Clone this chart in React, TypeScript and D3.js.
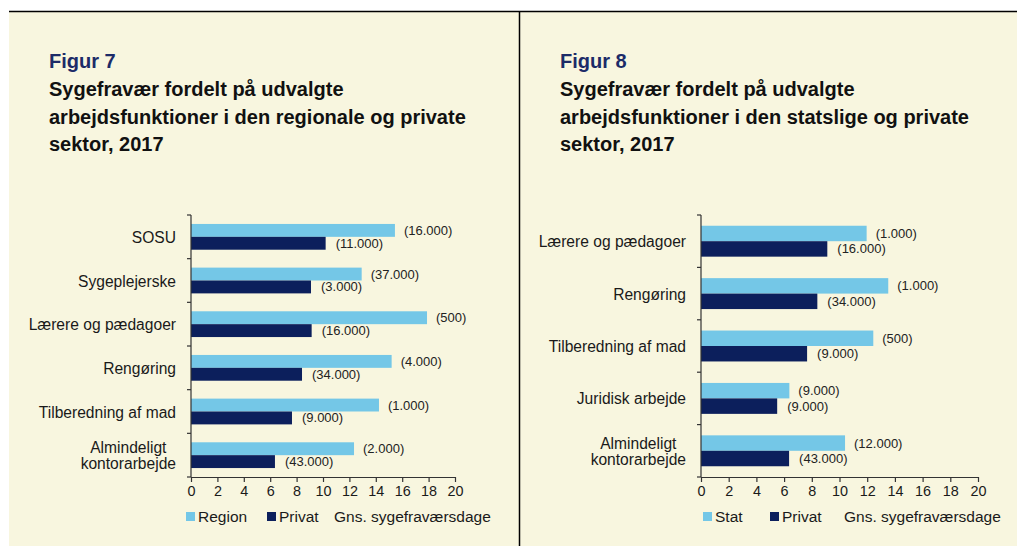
import React, { useEffect, useRef } from 'react'
import * as d3 from 'd3'

// Figur 7 data (regional vs privat)
const leftCategories = ['SOSU', 'Sygeplejerske', 'Lærere og pædagoer', 'Rengøring', 'Tilberedning af mad', 'Almindeligt\nkontorarbejde']
const leftRegion = [15.45, 12.93, 17.88, 15.2, 14.24, 12.35]
const leftPrivat = [10.2, 9.09, 9.14, 8.41, 7.65, 6.36]
const leftRegionLabels = ['(16.000)', '(37.000)', '(500)', '(4.000)', '(1.000)', '(2.000)']
const leftPrivatLabels = ['(11.000)', '(3.000)', '(16.000)', '(34.000)', '(9.000)', '(43.000)']

// Figur 8 data (statslig vs privat)
const rightCategories = ['Lærere og pædagoer', 'Rengøring', 'Tilberedning af mad', 'Juridisk arbejde', 'Almindeligt\nkontorarbejde']
const rightStat = [11.96, 13.52, 12.44, 6.38, 10.4]
const rightPrivat = [9.12, 8.4, 7.66, 5.5, 6.36]
const rightStatLabels = ['(1.000)', '(1.000)', '(500)', '(9.000)', '(12.000)']
const rightPrivatLabels = ['(16.000)', '(34.000)', '(9.000)', '(9.000)', '(43.000)']

const xTicks = [0, 2, 4, 6, 8, 10, 12, 14, 16, 18, 20]

const LIGHT = '#74c7e7'
const NAVY = '#0c1f5c'
const BG = '#f8f6df'
const FONT = '"Liberation Sans", Arial, sans-serif'

interface PanelSpec {
  left: number
  figur: string
  titleLines: string[]
  categories: string[]
  a: number[]
  b: number[]
  aLabels: string[]
  bLabels: string[]
  aName: string
  x0: number
  x1: number
  legendA: number
  legendB: number
  legendGns: number
}

const panels: PanelSpec[] = [
  {
    left: 49,
    figur: 'Figur 7',
    titleLines: ['Sygefravær fordelt på udvalgte', 'arbejdsfunktioner i den regionale og private', 'sektor, 2017'],
    categories: leftCategories,
    a: leftRegion,
    b: leftPrivat,
    aLabels: leftRegionLabels,
    bLabels: leftPrivatLabels,
    aName: 'Region',
    x0: 191,
    x1: 455,
    legendA: 186,
    legendB: 267,
    legendGns: 334
  },
  {
    left: 560,
    figur: 'Figur 8',
    titleLines: ['Sygefravær fordelt på udvalgte', 'arbejdsfunktioner i den statslige og private', 'sektor, 2017'],
    categories: rightCategories,
    a: rightStat,
    b: rightPrivat,
    aLabels: rightStatLabels,
    bLabels: rightPrivatLabels,
    aName: 'Stat',
    x0: 701,
    x1: 978,
    legendA: 703,
    legendB: 770,
    legendGns: 844
  }
]

export default function App() {
  const svgRef = useRef<SVGSVGElement>(null)

  useEffect(() => {
    if (!svgRef.current) return
    const svg = d3.select(svgRef.current)
    svg.selectAll('*').remove()

    svg.append('rect').attr('x', 9).attr('y', 11).attr('width', 510).attr('height', 535).attr('fill', BG)
    svg.append('rect').attr('x', 519).attr('y', 11).attr('width', 498).attr('height', 535).attr('fill', BG)
    svg.append('line').attr('x1', 9).attr('x2', 1017).attr('y1', 11.5).attr('y2', 11.5)
      .attr('stroke', '#000').attr('stroke-width', 1.5)
    svg.append('line').attr('x1', 519.5).attr('x2', 519.5).attr('y1', 11).attr('y2', 546)
      .attr('stroke', '#000').attr('stroke-width', 1.5)

    const yTop = 215
    const yBottom = 477

    panels.forEach(p => {
      const g = svg.append('g').attr('font-family', FONT)

      // titles
      g.append('text').attr('x', p.left).attr('y', 68).text(p.figur)
        .attr('font-size', 20).attr('font-weight', 700).attr('fill', '#1c2b68')
      p.titleLines.forEach((line, i) => {
        g.append('text').attr('x', p.left).attr('y', 96 + i * 27.7).text(line)
          .attr('font-size', 20).attr('font-weight', 700).attr('fill', '#111')
      })

      const x = d3.scaleLinear().domain([0, 20]).range([p.x0, p.x1])
      const y = d3.scaleBand<string>().domain(p.categories).range([yTop, yBottom])
        .paddingInner(0.41).paddingOuter(0.205)
      const sub = d3.scaleBand<string>().domain(['a', 'b']).range([0, y.bandwidth()])

      const rows = p.categories.map((c, i) => ({
        c, a: p.a[i], b: p.b[i], al: p.aLabels[i], bl: p.bLabels[i]
      }))

      // bars
      const row = g.selectAll('g.row').data(rows).join('g').attr('class', 'row')
        .attr('transform', d => `translate(0,${y(d.c)})`)
      row.append('rect').attr('x', x(0)).attr('y', sub('a')!)
        .attr('width', d => x(d.a) - x(0)).attr('height', sub.bandwidth()).attr('fill', LIGHT)
      row.append('rect').attr('x', x(0)).attr('y', sub('b')!)
        .attr('width', d => x(d.b) - x(0)).attr('height', sub.bandwidth()).attr('fill', NAVY)
      row.append('text').attr('x', d => x(d.a) + 9).attr('y', sub('a')! + sub.bandwidth() / 2)
        .attr('dominant-baseline', 'central').attr('font-size', 13).attr('fill', '#222').text(d => d.al)
      row.append('text').attr('x', d => x(d.b) + 10).attr('y', sub('b')! + sub.bandwidth() / 2)
        .attr('dominant-baseline', 'central').attr('font-size', 13).attr('fill', '#222').text(d => d.bl)

      // category labels (multi-line lines centred on each other, block right aligned)
      p.categories.forEach(c => {
        const lines = c.split('\n')
        const cy = y(c)! + y.bandwidth() / 2
        const lh = 16.5
        const t = g.append('text').attr('font-size', 15.6).attr('fill', '#1a1a1a')
          .attr('dominant-baseline', 'central')
        lines.forEach((l, i) => {
          t.append('tspan').text(l).attr('y', cy + (i - (lines.length - 1) / 2) * lh)
        })
        let maxW = 0
        t.selectAll<SVGTSpanElement, unknown>('tspan').each(function () {
          maxW = Math.max(maxW, this.getComputedTextLength())
        })
        t.attr('text-anchor', 'middle')
        t.selectAll('tspan').attr('x', p.x0 - 15 - maxW / 2)
      })

      // y axis with ticks at band boundaries
      g.append('line').attr('x1', x(0)).attr('x2', x(0)).attr('y1', yTop).attr('y2', yBottom)
        .attr('stroke', '#333').attr('stroke-width', 1.2)
      const bounds = d3.range(p.categories.length + 1).map(i => yTop + i * y.step())
      g.selectAll('line.ytick').data(bounds).join('line').attr('class', 'ytick')
        .attr('x1', x(0) - 4).attr('x2', x(0)).attr('y1', d => d).attr('y2', d => d)
        .attr('stroke', '#333').attr('stroke-width', 1.2)

      // x axis
      const ax = g.append('g').attr('transform', `translate(0,${yBottom})`)
        .call(d3.axisBottom(x).tickValues(xTicks).tickSize(5).tickSizeOuter(0).tickPadding(4))
      ax.select('.domain').attr('stroke', '#333').attr('stroke-width', 1.2)
      ax.selectAll('.tick line').attr('stroke', '#333').attr('stroke-width', 1.2)
      ax.selectAll('.tick text').attr('font-size', 14.4).attr('font-family', FONT).attr('fill', '#1a1a1a')

      // legend
      const ly = 516.5
      g.append('rect').attr('x', p.legendA).attr('y', ly - 4.5).attr('width', 9).attr('height', 9).attr('fill', LIGHT)
      g.append('text').attr('x', p.legendA + 12).attr('y', ly).attr('dominant-baseline', 'central')
        .attr('font-size', 15.5).attr('fill', '#1a1a1a').text(p.aName)
      g.append('rect').attr('x', p.legendB).attr('y', ly - 4.5).attr('width', 9).attr('height', 9).attr('fill', NAVY)
      g.append('text').attr('x', p.legendB + 12).attr('y', ly).attr('dominant-baseline', 'central')
        .attr('font-size', 15.5).attr('fill', '#1a1a1a').text('Privat')
      g.append('text').attr('x', p.legendGns).attr('y', ly).attr('dominant-baseline', 'central')
        .attr('font-size', 15.5).attr('fill', '#1a1a1a').text('Gns. sygefraværsdage')
    })
  }, [])

  return (
    <svg
      ref={svgRef}
      width={1017}
      height={546}
      style={{ position: 'absolute', left: 0, top: 0, background: '#fff' }}
    />
  )
}
